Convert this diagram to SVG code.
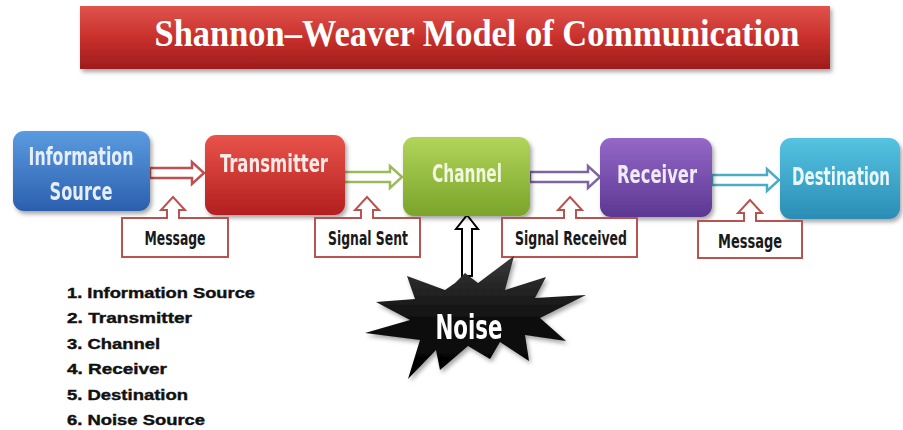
<svg xmlns="http://www.w3.org/2000/svg" width="903" height="430" viewBox="0 0 903 430">
  <defs>
    <linearGradient id="gTitle" x1="0" y1="0" x2="0" y2="1">
      <stop offset="0" stop-color="#e0544c"/>
      <stop offset="0.5" stop-color="#c9302c"/>
      <stop offset="1" stop-color="#9e1c1c"/>
    </linearGradient>
    <linearGradient id="gBlue" x1="0" y1="0" x2="0" y2="1">
      <stop offset="0" stop-color="#5b9be0"/>
      <stop offset="1" stop-color="#2b5fae"/>
    </linearGradient>
    <linearGradient id="gRed" x1="0" y1="0" x2="0" y2="1">
      <stop offset="0" stop-color="#e8534a"/>
      <stop offset="1" stop-color="#b31f1f"/>
    </linearGradient>
    <linearGradient id="gGreen" x1="0" y1="0" x2="0" y2="1">
      <stop offset="0" stop-color="#b2d45a"/>
      <stop offset="1" stop-color="#7aa42a"/>
    </linearGradient>
    <linearGradient id="gPurple" x1="0" y1="0" x2="0" y2="1">
      <stop offset="0" stop-color="#9468c8"/>
      <stop offset="1" stop-color="#5c3792"/>
    </linearGradient>
    <linearGradient id="gCyan" x1="0" y1="0" x2="0" y2="1">
      <stop offset="0" stop-color="#55c3e2"/>
      <stop offset="1" stop-color="#2a8db5"/>
    </linearGradient>
    <linearGradient id="gStar" x1="0" y1="0" x2="0" y2="1">
      <stop offset="0" stop-color="#3a3a3a"/>
      <stop offset="0.5" stop-color="#111"/>
      <stop offset="1" stop-color="#000"/>
    </linearGradient>
    <filter id="shadow" x="-10%" y="-10%" width="125%" height="135%">
      <feDropShadow dx="2" dy="3" stdDeviation="2" flood-color="#000" flood-opacity="0.35"/>
    </filter>
  </defs>
  <style>
    .node { filter: url(#shadow); }
    .ntext { font-family: "DejaVu Sans Condensed", "Liberation Sans", sans-serif; font-weight: bold; font-size: 24px; text-anchor: middle; }
    .callout { fill: #ffffff; stroke: #b9534f; stroke-width: 2; }
    .ctext { font-family: "DejaVu Sans Condensed", "Liberation Sans", sans-serif; font-weight: bold; font-size: 19px; fill: #1a1a1a; text-anchor: middle; }
    .flow { fill: #ffffff; stroke-width: 2.5; stroke-linejoin: miter; }
    .list { font-family: "Liberation Sans", Arial, sans-serif; font-weight: 900; font-size: 15px; fill: #111; stroke: #111; stroke-width: 0.4; }
  </style>

  <!-- Title -->
  <g id="title">
    <rect x="80" y="6" width="750" height="63" fill="url(#gTitle)" filter="url(#shadow)"/>
    <text x="477" y="46" font-family="Liberation Serif, 'Times New Roman', serif" font-weight="bold" font-size="38" fill="#ffffff" text-anchor="middle" textLength="645" lengthAdjust="spacingAndGlyphs">Shannon–Weaver Model of Communication</text>
  </g>

  <!-- Connectors -->
  <g id="connectors">
    <path class="flow" stroke="#c0504d" d="M150,168 H192 V162 L204,173 L192,184 V178 H150 Z"/>
    <path class="flow" stroke="#9bbb59" d="M344,172 H390 V166 L402,177 L390,188 V182 H344 Z"/>
    <path class="flow" stroke="#8064a2" d="M530,172 H588 V166 L600,177 L588,188 V182 H530 Z"/>
    <path class="flow" stroke="#4bacc6" d="M712,175 H767 V169 L779,180 L767,191 V185 H712 Z"/>
    <path fill="#ffffff" stroke="#000" stroke-width="2" d="M462,276 V229 H456 L467,215 L478,229 H472 V276 Z"/>
  </g>

  <!-- Nodes -->
  <g id="information-source" class="node">
    <rect x="13" y="131" width="137" height="80" rx="11" fill="url(#gBlue)"/>
    <text class="ntext" x="81" y="165" fill="#e6eefa" textLength="105" lengthAdjust="spacingAndGlyphs">Information</text>
    <text class="ntext" x="81" y="200" fill="#e6eefa" textLength="63" lengthAdjust="spacingAndGlyphs">Source</text>
  </g>
  <g id="transmitter" class="node">
    <rect x="205" y="135" width="140" height="80" rx="11" fill="url(#gRed)"/>
    <text class="ntext" x="274" y="172" fill="#fbe9e8" textLength="108" lengthAdjust="spacingAndGlyphs">Transmitter</text>
  </g>
  <g id="channel" class="node">
    <rect x="403" y="137" width="127" height="79" rx="11" fill="url(#gGreen)"/>
    <text class="ntext" x="467" y="182" fill="#f1f7e0" textLength="70" lengthAdjust="spacingAndGlyphs">Channel</text>
  </g>
  <g id="receiver" class="node">
    <rect x="600" y="138" width="112" height="79" rx="11" fill="url(#gPurple)"/>
    <text class="ntext" x="657" y="183" fill="#f0eaf8" textLength="80" lengthAdjust="spacingAndGlyphs">Receiver</text>
  </g>
  <g id="destination" class="node">
    <rect x="780" y="138" width="120" height="81" rx="11" fill="url(#gCyan)"/>
    <text class="ntext" transform="translate(841,185) scale(0.7,1)" x="0" y="0" fill="#e8f7fb" textLength="140" lengthAdjust="spacingAndGlyphs">Destination</text>
  </g>

  <!-- Callouts -->
  <g id="message-1">
    <path class="callout" d="M122,218 H167 V210 H161 L173,197 L185,210 H179 V218 H228 V257 H122 Z"/>
    <text class="ctext" x="175" y="245" textLength="61" lengthAdjust="spacingAndGlyphs">Message</text>
  </g>
  <g id="signal-sent">
    <path class="callout" d="M315,218 H361 V210 H355 L367,197 L379,210 H373 V218 H420 V257 H315 Z"/>
    <text class="ctext" x="368" y="245" textLength="80" lengthAdjust="spacingAndGlyphs">Signal Sent</text>
  </g>
  <g id="signal-received">
    <path class="callout" d="M502,218 H564 V210 H558 L570,197 L582,210 H576 V218 H637 V257 H502 Z"/>
    <text class="ctext" x="571" y="245" textLength="112" lengthAdjust="spacingAndGlyphs">Signal Received</text>
  </g>
  <g id="message-2">
    <path class="callout" d="M698,221 H744 V213 H738 L750,200 L762,213 H756 V221 H802 V258 H698 Z"/>
    <text class="ctext" x="750" y="248" textLength="64" lengthAdjust="spacingAndGlyphs">Message</text>
  </g>

  <!-- Noise -->
  <g id="noise" class="node">
    <polygon fill="url(#gStar)" points="455,283 465,273 478,283 514,256 505,290 546,277 535,298 586,295 540,318 566,341 525,335 529,361 500,342 490,359 468,346 440,370 436,350 408,379 420,340 365,333 410,320 376,302 415,299 407,276 445,290"/>
    <text x="469" y="339" font-family="'DejaVu Sans Condensed', sans-serif" font-weight="bold" font-size="33" fill="#ffffff" text-anchor="middle" textLength="67" lengthAdjust="spacingAndGlyphs">Noise</text>
  </g>

  <!-- Legend list -->
  <g id="legend">
    <text class="list" x="67" y="298" textLength="188" lengthAdjust="spacingAndGlyphs">1. Information Source</text>
    <text class="list" x="67" y="323" textLength="125" lengthAdjust="spacingAndGlyphs">2. Transmitter</text>
    <text class="list" x="67" y="349" textLength="93" lengthAdjust="spacingAndGlyphs">3. Channel</text>
    <text class="list" x="67" y="374" textLength="100" lengthAdjust="spacingAndGlyphs">4. Receiver</text>
    <text class="list" x="67" y="400" textLength="121" lengthAdjust="spacingAndGlyphs">5. Destination</text>
    <text class="list" x="67" y="425" textLength="138" lengthAdjust="spacingAndGlyphs">6. Noise Source</text>
  </g>
</svg>
